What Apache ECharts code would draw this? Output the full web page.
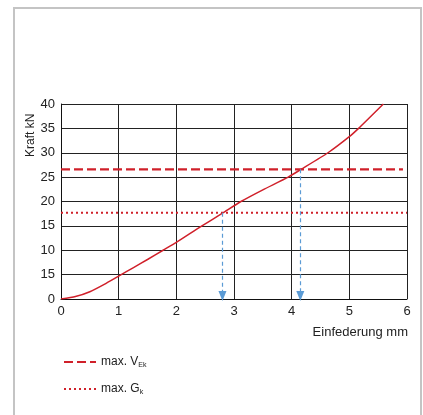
<!DOCTYPE html>
<html>
<head>
<meta charset="utf-8">
<script src="https://cdn.jsdelivr.net/npm/echarts@6/dist/echarts.min.js"></script>
<style>
html,body{margin:0;padding:0;background:#fff;}
#frame{position:absolute;left:13px;top:7px;width:409px;height:420px;border:2px solid #c4c4c4;border-bottom:none;box-sizing:border-box;}
#chart{position:absolute;left:0;top:0;width:423px;height:415px;}
</style>
</head>
<body>
<div id="frame"></div>
<div id="chart"></div>
<script>
// Curve: Einfederung (mm) vs Kraft (kN)
const curveX = [0, 0.25, 0.5, 0.75, 1, 1.25, 1.5, 1.77, 2, 2.43, 2.8, 3.12, 3.5, 3.94, 4.15, 4.63, 5, 5.16, 5.59];
const curveY = [0, 0.5, 1.5, 3.0, 4.7, 6.4, 8.1, 10, 11.6, 14.9, 17.6, 20, 22.4, 25, 26.5, 30, 33.3, 35, 40];
// Reference levels
const maxVEk = 26.6;
const maxGk = 17.7;
// Intersection abscissae (arrows)
const arrowX = [2.8, 4.15];
// Tick labels as printed
const yTickLabels = ['0', '15', '10', '15', '20', '25', '30', '35', '40'];
const xTickLabels = ['0', '1', '2', '3', '4', '5', '6'];

const red = '#d0202a';
const blue = '#5b9bd5';
const font = 'Liberation Sans, Arial, sans-serif';

const chart = echarts.init(document.getElementById('chart'), null, {renderer: 'canvas'});
const option = {
  animation: false,
  grid: {left: 61, right: 16, top: 104, bottom: 116, containLabel: false},
  xAxis: {
    type: 'value', min: 0, max: 6, interval: 1,
    axisLine: {show: true, lineStyle: {color: '#111', width: 1}},
    axisTick: {show: false},
    splitLine: {show: true, lineStyle: {color: '#222', width: 1}},
    axisLabel: {color: '#222', fontSize: 13, fontFamily: font, margin: 6,
      formatter: v => xTickLabels[Math.round(v)]}
  },
  yAxis: {
    type: 'value', min: 0, max: 40, interval: 5,
    axisLine: {show: true, lineStyle: {color: '#111', width: 1}},
    axisTick: {show: false},
    splitLine: {show: true, lineStyle: {color: '#222', width: 1}},
    axisLabel: {color: '#222', fontSize: 13, fontFamily: font, margin: 6,
      formatter: v => yTickLabels[Math.round(v / 5)]}
  },
  legend: {
    data: ['vek', 'gk'],
    orient: 'vertical',
    left: 58, top: 351,
    itemWidth: 32, itemHeight: 10, itemGap: 14,
    itemStyle: {opacity: 0},
    textStyle: {
      color: '#222', fontSize: 12, fontFamily: font,
      rich: {s: {fontSize: 7, fontFamily: font, color: '#222', padding: [7, 0, 0, 0]}}
    },
    formatter: n => n === 'vek' ? 'max. V{s|Ek}' : 'max. G{s|k}'
  },
  series: [
    {
      name: 'curve', type: 'line', smooth: 0.2, showSymbol: false, symbol: 'none',
      lineStyle: {color: red, width: 1.5},
      data: curveX.map((x, i) => [x, curveY[i]]),
      markLine: {
        silent: true,
        symbol: ['none', 'triangle'],
        symbolSize: [8, 10],
        label: {show: false},
        lineStyle: {color: blue, type: [4, 3], width: 1.2},
        data: arrowX.map((x, i) => [
          {coord: [x, i === 0 ? maxGk : maxVEk], symbol: 'none'},
          {coord: [x, 0.6], symbol: 'triangle', symbolRotate: 180}
        ])
      }
    },
    {
      name: 'vek', type: 'line', symbol: 'none',
      lineStyle: {color: red, width: 2.2, type: [9, 4]},
      itemStyle: {color: red},
      data: [[0, maxVEk], [5.93, maxVEk]]
    },
    {
      name: 'gk', type: 'line', symbol: 'none',
      lineStyle: {color: red, width: 2, type: [2, 3]},
      itemStyle: {color: red},
      data: [[0, maxGk], [6, maxGk]]
    }
  ],
  graphic: [
    {type: 'text', right: 15, top: 326,
      style: {text: 'Einfederung mm', fill: '#222', font: '13px ' + font}},
    {type: 'text', x: 25, y: 157, rotation: Math.PI / 2,
      style: {text: 'Kraft kN', fill: '#222', font: '12px ' + font, align: 'left', verticalAlign: 'top'}}
  ]
};
chart.setOption(option);
</script>
</body>
</html>
